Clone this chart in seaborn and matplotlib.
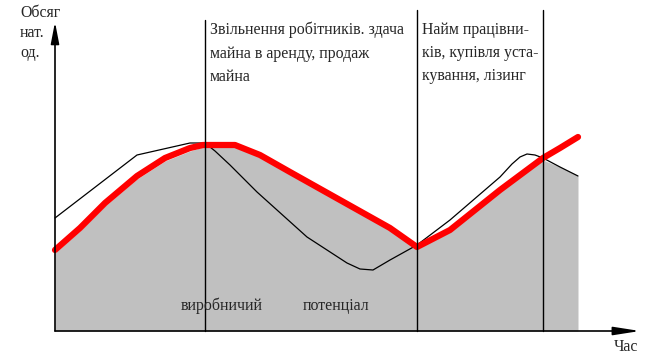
# schematic: production potential vs demand over time
import numpy as np
import matplotlib.pyplot as plt
import seaborn as sns
import pandas as pd

# %%
# data (x = time, y = volume above the time axis)
red_x = [55, 80, 105, 137, 165, 190, 203, 235, 260, 290, 340, 390, 417, 450, 500, 543, 560, 578]
red_y = [81, 103, 128, 155, 173, 183, 186, 186, 176, 159, 131, 103, 84, 101, 141, 173, 183, 194]

demand_x = [55, 137, 190, 205, 215, 230, 257, 307, 347, 360, 373, 390, 417, 450, 500, 512, 520, 527, 535, 543, 560, 578]
demand_y = [113, 176, 188, 188, 180, 166, 139, 94, 68, 62, 61, 71, 86, 111, 154, 167, 174, 177, 176, 173, 164, 155]

gray_x = [55, 80, 105, 137, 165, 190, 203, 235, 260, 290, 340, 390, 417, 450, 500, 543, 560, 578]
gray_y = [78, 100, 125, 152, 170, 180, 184, 184, 174, 157, 129, 101, 82, 99, 139, 171, 164, 155]

events_x = [205, 417, 543]
events_top = [311, 321, 321]

event_labels = ["Звільнення робітників. здача\nмайна в аренду, продаж\nмайна",
                "Найм працівни-\nків, купівля уста-\nкування, лізинг"]
y_label_lines = ["Обсяг", "нат.", "од."]
x_label = "Час"
area_words = ["виробничий", "потенціал"]

# %%
sns.set_style("white")
plt.rcParams['font.family'] = ['Liberation Serif', 'DejaVu Serif']

fig = plt.figure(figsize=(6.48, 3.56), dpi=100)
ax = fig.add_axes([0, 0, 1, 1])
ax.set_xlim(0, 648)
ax.set_ylim(-25, 331)
ax.axis('off')

# gray potential area
ax.fill_between(gray_x, 0, gray_y, color='#c0c0c0', lw=0, zorder=1)

# demand curve and red potential line
df_demand = pd.DataFrame({'x': demand_x, 'y': demand_y})
df_red = pd.DataFrame({'x': red_x, 'y': red_y})
sns.lineplot(data=df_demand, x='x', y='y', ax=ax, color='black', lw=0.9, sort=False, zorder=3)
sns.lineplot(data=df_red, x='x', y='y', ax=ax, color='#ff0000', lw=4.5, sort=False, zorder=4)

# event lines
for ex, et in zip(events_x, events_top):
    ax.plot([ex, ex], [0, et], color='black', lw=1, zorder=5)

# axes with arrows
arrow_kw = dict(color='black', lw=1.2, shrinkA=0, shrinkB=0)
ax.annotate('', xy=(55, 309), xytext=(55, 0),
            arrowprops=dict(arrowstyle='-|>,head_length=1.3,head_width=0.25', **arrow_kw),
            zorder=6)
ax.annotate('', xy=(640, 0), xytext=(55, 0),
            arrowprops=dict(arrowstyle='-|>,head_length=1.6,head_width=0.25', **arrow_kw),
            zorder=6)

# texts
fs = 11.4
for i, line in enumerate(y_label_lines):
    ax.text(20, 326 - i * 20, line, fontsize=fs, va='top', ha='left')
ax.text(210, 309, event_labels[0], fontsize=fs, va='top', ha='left', linespacing=1.6)
ax.text(422, 309, event_labels[1], fontsize=fs, va='top', ha='left', linespacing=1.6)
ax.text(222, 25, area_words[0], fontsize=fs, va='center', ha='center', zorder=6)
ax.text(336, 25, area_words[1], fontsize=fs, va='center', ha='center', zorder=6)
ax.text(614, -8, x_label, fontsize=fs, va='top', ha='left')

fig.savefig('out.png', dpi=100)
